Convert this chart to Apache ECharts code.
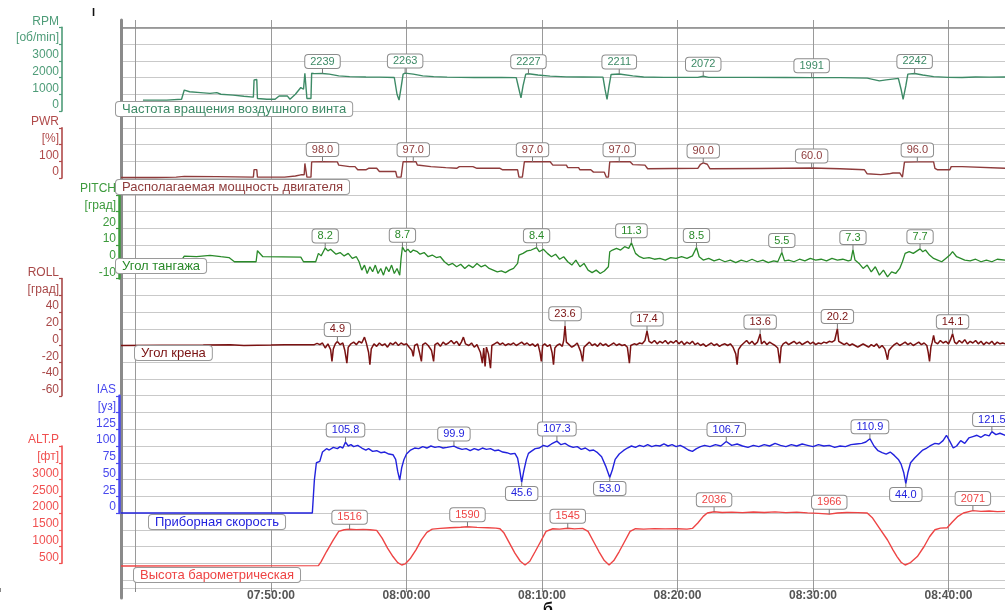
<!DOCTYPE html>
<html><head><meta charset="utf-8">
<script src="https://cdn.jsdelivr.net/npm/echarts/dist/echarts.min.js"></script>
<style>html,body{margin:0;padding:0;background:#fff}#c{width:1005px;height:610px}</style>
</head><body><div id="c"></div>
<script>
// ---------- DATA (time in minutes after 07:00:00, value) ----------
const rpm = [[40.55,650],[42.3,650],[42.4,700],[43.4,700],[43.6,1250],[44.0,1150],[44.8,1100],[45.5,1050],[46.0,1100],[46.3,1000],[47.2,950],[48.0,880],[48.7,830],[48.75,1850],[48.95,1880],[49.0,750],[49.7,700],[50.3,700],[50.6,900],[51.2,900],[51.4,700],[51.8,1000],[52.2,1400],[52.4,1300],[52.5,2250],[52.6,2250],[52.65,750],[52.95,750],[53.0,2250],[53.2,2230],[53.8,2239],[54.3,2200],[55.0,2100],[55.8,2050],[57.0,2030],[58.0,2020],[59.1,2000],[59.3,1000],[59.45,650],[59.6,1400],[59.75,2200],[59.9,2263],[60.5,2200],[61.2,2100],[62.0,2050],[63.0,2020],[65.0,2000],[67.0,2000],[68.1,1990],[68.3,1300],[68.45,780],[68.6,1500],[68.8,2200],[69.0,2227],[69.7,2150],[70.6,2080],[71.8,2040],[73.0,2030],[74.5,2020],[74.65,1300],[74.8,700],[74.95,1500],[75.1,2180],[75.7,2211],[76.7,2100],[77.5,2030],[79.0,2010],[81.5,2010],[81.9,2072],[82.3,2010],[85.0,2010],[88.0,2000],[89.9,1991],[92.0,1990],[94.0,1960],[94.9,1800],[95.4,1860],[96.3,1950],[96.5,1300],[96.65,700],[96.85,1500],[97.0,2200],[97.5,2242],[98.1,2150],[98.9,2050],[100.0,2010],[101.0,2000],[102.0,2030],[103.0,2020],[104.2,2030]];
const rpmNotes = [[53.8,2239],[59.9,2263],[69.0,2227],[75.7,2211],[81.9,2072],[89.9,1991],[97.5,2242]];

const pwr = [[38.93,3],[41.5,3],[43.0,5],[43.6,10],[46.0,8],[48.7,5],[48.75,50],[48.95,50],[49.0,5],[51.0,5],[51.8,12],[52.2,19],[52.45,19],[52.5,87],[52.6,87],[52.65,5],[52.95,5],[53.0,96],[53.8,98],[54.9,96],[55.0,77],[55.8,68],[56.2,68],[56.4,49],[57.0,49],[57.2,58],[57.8,58],[58.0,39],[59.2,39],[59.3,5],[59.6,5],[59.75,97],[60.7,97],[60.8,78],[61.8,68],[62.9,62],[63.7,58],[63.9,68],[64.9,68],[65.2,58],[66.9,58],[67.1,49],[68.2,49],[68.3,5],[68.55,5],[68.7,97],[70.6,97],[70.8,77],[71.8,77],[71.9,62],[72.7,62],[72.8,49],[73.6,49],[73.8,35],[74.6,35],[74.75,5],[74.9,5],[75.0,96],[75.6,97],[76.5,97],[76.7,80],[77.6,77],[77.8,55],[81.5,58],[81.7,82],[81.9,90],[82.2,82],[82.4,55],[86.0,57],[89.9,60],[92.0,55],[93.8,49],[94.0,25],[95.0,20],[95.6,25],[95.9,30],[96.4,30],[96.6,5],[96.75,95],[97.7,96],[98.9,96],[99.0,58],[99.2,49],[100.1,49],[100.2,68],[101.0,68],[101.1,58],[104.2,58]];
const pwrNotes = [[53.8,98],[60.5,97],[69.3,97],[75.7,97],[81.9,90],[89.9,60],[97.7,96]];

const pitch = [[38.93,1],[43.4,1],[43.6,3.4],[44.5,3],[45.5,3.8],[46.3,3],[46.9,2.5],[47.3,0],[48.9,0],[49.0,6.6],[49.4,3],[52.2,2.8],[52.4,0],[53.3,0],[53.5,5],[53.7,3.5],[54.0,8.2],[54.2,6.5],[54.4,7.5],[54.6,6],[54.8,4.5],[55.1,5.5],[55.4,3.5],[55.7,5],[56.0,2],[56.3,3],[56.5,0],[56.7,-5],[56.9,-2],[57.1,-7],[57.3,-3],[57.5,-6],[57.7,-2],[57.9,-7],[58.1,-4],[58.3,-8],[58.5,-3],[58.7,-6],[58.9,-2],[59.1,-7],[59.3,-4],[59.5,-8],[59.6,2],[59.7,8.7],[59.9,6],[60.1,7.5],[60.3,5.5],[60.5,7],[60.8,6],[61.0,4.5],[61.3,5.5],[61.6,3],[61.9,4],[62.2,2.5],[62.5,3],[62.8,0],[63.1,-2],[63.4,-1],[63.7,-3],[64.0,-1.5],[64.3,-4],[64.6,-2],[64.9,-3.5],[65.2,-1],[65.5,-3],[65.8,-2],[66.1,-4],[66.4,-5],[66.7,-6],[67.0,-5.5],[67.3,-6.5],[67.6,-5],[67.9,-4],[68.2,-1],[68.3,4],[68.6,5],[68.9,6.5],[69.2,7],[69.6,8.4],[69.8,6],[70.1,7.5],[70.4,5],[70.7,3],[71.0,4.5],[71.3,1.5],[71.6,3],[71.9,0],[72.2,-2],[72.5,1],[72.8,-3],[73.1,-1],[73.4,-5],[73.7,-6.5],[74.0,-5],[74.3,-7],[74.6,-5.5],[74.9,-3],[75.0,6],[75.2,7],[75.5,8],[75.8,7],[76.1,9],[76.4,8],[76.6,11.3],[76.9,5],[77.2,3],[77.5,2],[77.9,2.5],[78.3,1.5],[78.7,2],[79.1,1],[79.5,2.5],[79.9,2],[80.3,3],[80.7,2],[81.1,3.5],[81.4,8.5],[81.6,3],[81.9,1],[82.3,2],[82.7,0.5],[83.1,1.5],[83.5,0],[83.9,1],[84.3,-0.5],[84.7,1],[85.1,0],[85.5,1.5],[85.9,0],[86.3,1],[86.7,-0.5],[87.1,0.5],[87.4,0],[87.7,5.5],[87.9,0.5],[88.2,1],[88.6,0],[89.0,1.5],[89.4,0.5],[89.8,2],[90.2,1],[90.6,1.5],[91.0,0.5],[91.4,2],[91.8,1],[92.2,1.5],[92.6,0.5],[92.8,1],[92.95,7.3],[93.1,1],[93.4,-1],[93.7,-4],[94.0,-2],[94.3,-6],[94.6,-3],[94.9,-8],[95.2,-5],[95.5,-9],[95.8,-6],[96.1,-7],[96.4,-4],[96.6,0],[96.8,5],[97.1,6],[97.4,5],[97.9,7.7],[98.1,6],[98.3,7],[98.6,4],[98.9,2],[99.2,1],[99.5,0],[99.8,2],[100.1,4],[100.3,6],[100.6,3],[100.9,2],[101.2,1],[101.6,0.5],[102.0,1.5],[102.4,0],[102.8,1],[103.2,0],[103.6,1.5],[104.2,1]];
const pitchNotes = [[54.0,8.2],[59.7,8.7],[69.6,8.4],[76.6,11.3],[81.4,8.5],[87.7,5.5],[92.95,7.3],[97.9,7.7]];

const roll = [[38.93,0],[45,0.5],[47,1],[48,0],[50,0.5],[51,1],[53.2,1],[53.4,2.5],[53.6,1],[53.8,3],[54.0,-3],[54.2,2],[54.4,-5],[54.5,-19],[54.6,-4],[54.75,2],[54.9,4.9],[55.1,1],[55.3,3],[55.45,-6],[55.6,-21],[55.7,-2],[55.9,2],[56.1,4],[56.3,1],[56.5,5],[56.7,3],[56.9,10],[57.05,2],[57.2,-8],[57.3,-23],[57.4,-4],[57.6,2],[57.8,-1],[58.0,3],[58.2,0],[58.4,2],[58.6,-2],[58.8,3],[59.0,1],[59.2,4],[59.4,0],[59.6,3],[59.8,1],[60.0,2],[60.2,-2],[60.4,-6],[60.5,-13],[60.6,0],[60.8,2],[60.95,-8],[61.1,-19],[61.2,1],[61.4,3],[61.6,0],[61.85,-6],[62.0,-19],[62.1,1],[62.3,3],[62.5,-1],[62.7,4],[62.9,1],[63.1,3],[63.3,6],[63.5,2],[63.7,5],[63.9,0],[64.05,4],[64.2,10],[64.35,2],[64.6,0],[64.8,3],[65.0,-2],[65.2,1],[65.45,-8],[65.6,-21],[65.7,-3],[65.8,-25],[65.9,-2],[66.05,-10],[66.2,-27],[66.3,0],[66.5,2],[66.7,4],[66.9,1],[67.1,3],[67.3,0],[67.5,2],[67.7,1],[67.9,3],[68.1,0],[68.3,2],[68.5,4],[68.7,1],[68.9,3],[69.1,0],[69.3,2],[69.5,-1],[69.7,2],[69.85,-8],[69.95,-19],[70.05,0],[70.2,2],[70.4,-1],[70.6,1],[70.75,-9],[70.85,-23],[70.95,-3],[71.1,0],[71.3,2],[71.5,-1],[71.6,6],[71.7,23.6],[71.8,4],[72.0,1],[72.2,-2],[72.4,0],[72.6,3],[72.85,-7],[73.0,-19],[73.1,-2],[73.3,1],[73.5,4],[73.7,0],[73.9,2],[74.1,-1],[74.3,3],[74.5,0],[74.7,2],[74.9,-1],[75.1,1],[75.3,3],[75.5,0],[75.7,2],[75.9,0],[76.1,1],[76.3,-2],[76.45,-21],[76.55,0],[76.8,2],[77.0,1],[77.2,3],[77.4,2],[77.6,6],[77.75,17.4],[77.9,5],[78.1,3],[78.3,6],[78.5,2],[78.7,5],[78.9,3],[79.1,6],[79.3,2],[79.5,5],[79.7,3],[79.9,6],[80.1,2],[80.3,5],[80.5,1],[80.7,4],[80.9,2],[81.1,5],[81.3,1],[81.5,3],[81.7,0],[81.9,2],[82.1,-1],[82.3,1],[82.5,3],[82.7,0],[82.9,2],[83.1,-1],[83.3,1],[83.5,2],[83.7,0],[83.9,2],[84.1,-2],[84.3,-10],[84.4,-23],[84.5,-5],[84.7,0],[84.9,3],[85.1,6],[85.3,2],[85.5,5],[85.7,1],[85.9,4],[86.1,13.6],[86.2,2],[86.4,5],[86.6,1],[86.8,4],[87.0,2],[87.2,0],[87.4,-3],[87.55,-21],[87.65,-2],[87.8,2],[88.0,4],[88.2,1],[88.4,3],[88.6,5],[88.8,2],[89.0,4],[89.2,1],[89.4,3],[89.6,5],[89.8,2],[90.0,4],[90.2,1],[90.4,3],[90.6,2],[90.8,4],[91.0,3],[91.2,5],[91.4,4],[91.6,6],[91.8,20.2],[91.9,5],[92.1,3],[92.3,1],[92.5,3],[92.7,0],[92.9,2],[93.1,0],[93.3,-2],[93.5,0],[93.7,2],[93.9,0],[94.1,-2],[94.3,1],[94.5,-1],[94.7,2],[94.9,-3],[95.1,0],[95.3,-4],[95.4,-10],[95.5,-17],[95.6,-6],[95.8,-2],[96.0,1],[96.2,3],[96.4,0],[96.6,2],[96.8,4],[97.0,1],[97.2,3],[97.4,0],[97.6,2],[97.8,4],[98.0,1],[98.2,3],[98.4,0],[98.5,-8],[98.6,-19],[98.7,-2],[98.8,4],[98.9,12],[99.0,4],[99.2,2],[99.4,6],[99.6,3],[99.8,5],[100.0,2],[100.15,7],[100.3,14.1],[100.45,4],[100.6,2],[100.8,6],[101.0,3],[101.2,7],[101.4,2],[101.6,5],[101.8,3],[102.0,6],[102.2,2],[102.4,5],[102.6,1],[102.8,4],[103.0,2],[103.2,5],[103.4,1],[103.6,4],[103.8,2],[104.0,3],[104.2,2]];
const rollNotes = [[54.9,4.9],[71.7,23.6],[77.75,17.4],[86.1,13.6],[91.8,20.2],[100.3,14.1]];

const ias = [[38.93,0],[53.05,0],[53.2,49],[53.35,75],[53.6,77],[53.8,91],[54.1,96],[54.3,94],[54.6,98],[54.9,96],[55.1,99],[55.3,97],[55.5,105.8],[55.7,100],[55.9,102],[56.1,99],[56.4,101],[56.7,97],[57.0,94],[57.2,96],[57.5,92],[57.8,93],[58.1,90],[58.4,91],[58.7,88],[59.0,87],[59.2,80],[59.35,62],[59.5,49],[59.65,68],[59.8,79],[60.0,88],[60.3,94],[60.6,97],[60.9,96],[61.2,99],[61.5,97],[61.8,100],[62.1,98],[62.4,99],[62.7,97],[63.0,98],[63.5,99.9],[63.8,97],[64.1,95],[64.4,96],[64.7,93],[65.0,96],[65.3,94],[65.6,97],[65.9,95],[66.2,96],[66.5,93],[66.8,94],[67.1,91],[67.4,90],[67.7,88],[68.0,89],[68.2,82],[68.35,65],[68.5,45.6],[68.65,62],[68.85,80],[69.0,89],[69.2,92],[69.5,96],[69.8,97],[70.1,101],[70.4,99],[70.7,103],[71.1,107.3],[71.4,102],[71.7,104],[72.0,100],[72.3,98],[72.6,99],[72.9,95],[73.2,97],[73.5,93],[73.8,94],[74.1,90],[74.4,84],[74.7,70],[75.0,53.0],[75.2,65],[75.4,80],[75.7,88],[76.0,93],[76.3,97],[76.6,100],[76.9,98],[77.2,101],[77.5,99],[77.8,102],[78.1,99],[78.4,101],[78.7,100],[79.0,103],[79.3,100],[79.6,102],[79.9,99],[80.2,101],[80.5,98],[80.8,94],[81.1,92],[81.4,96],[81.7,99],[82.0,101],[82.4,99],[82.8,102],[83.2,100],[83.6,106.7],[84.0,101],[84.4,103],[84.8,100],[85.2,98],[85.6,101],[86.0,99],[86.4,102],[86.8,100],[87.2,104],[87.6,101],[88.0,99],[88.4,102],[88.8,100],[89.2,103],[89.6,101],[90.0,99],[90.4,102],[90.8,100],[91.2,101],[91.6,98],[92.0,100],[92.4,99],[92.8,102],[93.2,103],[93.6,104],[93.9,106],[94.2,110.9],[94.5,100],[94.8,93],[95.1,90],[95.4,88],[95.7,91],[96.0,86],[96.3,80],[96.5,73],[96.7,60],[96.85,44.0],[97.0,60],[97.2,75],[97.5,82],[97.8,88],[98.1,94],[98.4,97],[98.7,101],[99.0,104],[99.3,103],[99.6,108],[99.85,116],[100.1,107],[100.35,97],[100.6,100],[100.9,108],[101.2,104],[101.5,112],[101.8,114],[102.1,116],[102.4,113],[102.7,117],[103.0,115],[103.2,121.5],[103.5,117],[103.8,119],[104.2,116]];
const iasNotes = [[55.5,105.8],[63.5,99.9],[71.1,107.3],[83.6,106.7],[94.2,110.9],[103.2,121.5]];
const iasLowNotes = [[68.5,45.6],[75.0,53.0],[96.85,44.0]];

const alt = [[38.93,420],[53.5,430],[53.7,550],[54.1,850],[54.6,1200],[55.0,1450],[55.4,1500],[55.8,1516],[56.3,1505],[56.8,1512],[57.3,1500],[57.8,1480],[58.2,1250],[58.6,950],[59.0,700],[59.35,520],[59.65,448],[59.9,480],[60.3,650],[60.7,900],[61.1,1200],[61.5,1420],[61.9,1520],[62.5,1540],[63.2,1560],[64.0,1575],[64.5,1590],[65.2,1570],[66.0,1560],[66.6,1550],[66.9,1530],[67.2,1400],[67.6,1100],[68.0,800],[68.4,560],[68.75,448],[69.1,560],[69.5,850],[69.9,1150],[70.3,1450],[70.8,1530],[71.3,1520],[71.9,1545],[72.4,1525],[73.0,1540],[73.4,1450],[73.8,1150],[74.2,850],[74.6,580],[74.95,448],[75.3,580],[75.7,850],[76.1,1150],[76.5,1450],[76.9,1530],[77.5,1520],[78.3,1535],[79.1,1525],[80.0,1530],[80.7,1520],[81.1,1540],[81.5,1700],[81.9,1900],[82.2,2000],[82.7,2036],[83.3,2015],[84.0,2025],[84.8,2010],[85.6,2030],[86.4,2015],[87.2,2035],[88.0,2010],[88.8,2025],[89.6,2005],[90.4,1990],[91.2,1966],[91.8,2000],[92.5,2015],[93.3,2010],[94.0,2000],[94.4,1850],[94.9,1550],[95.5,1194],[95.9,900],[96.2,700],[96.5,530],[96.8,448],[97.2,520],[97.7,700],[98.2,1000],[98.6,1292],[99.0,1500],[99.4,1550],[99.9,1560],[100.3,1740],[100.7,1900],[101.1,2000],[101.8,2071],[102.4,2050],[103.0,2060],[103.6,2040],[104.2,2050]];
const altNotes = [[55.8,1516],[64.5,1590],[71.9,1545],[82.7,2036],[91.2,1966],[101.8,2071]];

const seriesNames = ['Частота вращения воздушного винта','Располагаемая мощность двигателя','Угол тангажа','Угол крена','Приборная скорость','Высота барометрическая'];
const axisNames = ['RPM','PWR','PITCH','ROLL','IAS','ALT.P'];
const axisUnits = ['[об/min]','[%]','[град]','[град]','[уз]','[фт]'];
const timeRange = [38.93, 104.17];   // minutes after 07:00
const timeTickStart = 30;            // 07:30:00, ticks every 10 min
const timeTickStep = 10;

// ---------- LAYOUT ----------
const W = 1005, GL = 121, STEP = 16.75, TOPLINE = 27.25, BOTTOM = 588;
const gy = j => 10.5 + j*STEP;
const FONT = 'Liberation Sans';
const pxPerMin = (W - GL) / (timeRange[1] - timeRange[0]);
const tickGridLeft = GL - (timeRange[0] - timeTickStart) * pxPerMin;

const panels = [
  {data: rpm,   notes: rpmNotes,   jt:1,  jb:6,  min:0,   max:5000, step:1000, line:'#3d8a66', txt:'#4e9c78', off:59, aw:1.6, lw:1.4, dec:0, box:[115,101]},
  {data: pwr,   notes: pwrNotes,   jt:7,  jb:10, min:0,   max:300,  step:100,  line:'#8e3b3b', txt:'#b04a4a', off:59, aw:1.6, lw:1.4, dec:1, box:[115,179]},
  {data: pitch, notes: pitchNotes, jt:11, jb:16, min:-10, max:40,   step:10,   line:'#2a8a2a', txt:'#3c9a3c', off:2,  aw:2.5, lw:1.3, dec:1, box:[115,258]},
  {data: roll,  notes: rollNotes,  jt:16, jb:23, min:-60, max:80,   step:20,   line:'#7a1212', txt:'#a84848', off:59, aw:1.6, lw:1.5, dec:1, box:[134,345]},
  {data: ias,   notes: iasNotes,   jt:23, jb:30, min:0,   max:175,  step:25,   line:'#2222dd', txt:'#4848ee', off:2,  aw:2.5, lw:1.4, dec:1, box:[148,514], low: iasLowNotes},
  {data: alt,   notes: altNotes,   jt:26, jb:33, min:500, max:4000, step:500,  line:'#ee4444', txt:'#f05050', off:59, aw:1.6, lw:1.4, dec:0, box:[133,567]}
];

function hms(m){const h=7+Math.floor(m/60), mm=Math.round(m%60);const p=n=>String(n).padStart(2,'0');return p(h)+':'+p(mm)+':00';}

const G = o => Object.assign({right:0, show:false, containLabel:false, outerBoundsMode:'none'}, o);
const grids = [
  G({left:GL, top:TOPLINE, height:BOTTOM-TOPLINE}),
  G({left:tickGridLeft, top:20, height:BOTTOM-20}),
  G({left:GL, top:20, height:598-20})
];
const xAxes = [
  {type:'value', gridIndex:0, min:timeRange[0], max:timeRange[1],
   axisLine:{show:true, lineStyle:{color:'#888', width:1.5}}, axisTick:{show:false}, axisLabel:{show:false}, splitLine:{show:false}},
  {type:'value', gridIndex:1, min:timeTickStart, max:timeRange[1], interval:timeTickStep,
   axisLine:{show:false}, axisTick:{show:true, length:4, lineStyle:{color:'#888'}},
   splitLine:{show:true, showMinLine:false, showMaxLine:false, lineStyle:{color:'#9a9a9a', width:1}},
   axisLabel:{color:'#555', fontSize:12, fontWeight:'bold', fontFamily:FONT, margin:2, showMaxLabel:false,
     formatter: v => ((v <= 40 || v % 10 !== 0) ? '' : hms(v))}},
  {type:'value', gridIndex:2, min:timeRange[0], max:timeRange[1], show:false}
];
const yAxes = [
  {type:'value', gridIndex:0, inverse:true, min:0, max:(BOTTOM-TOPLINE)/STEP, interval:1,
   axisLine:{show:false}, axisTick:{show:false}, axisLabel:{show:false},
   splitLine:{show:true, lineStyle:{color:'#c9c9c9', width:1}}},
  {type:'value', gridIndex:1, min:0, max:1, show:false},
  {type:'value', gridIndex:2, min:0, max:1, axisLine:{show:true, lineStyle:{color:'#8a8a8a', width:3}},
   axisTick:{show:false}, axisLabel:{show:false}, splitLine:{show:false}}
];
const series = [];
const graphics = [];

const noteLabel = (p, dy) => ({
  show:true, position:'inside', offset:[0,dy], color:p.line, fontSize:11, fontFamily:FONT,
  backgroundColor:'#fff', borderColor:'#8c8c8c', borderWidth:1, borderRadius:3,
  padding:[1,5,0,5], lineHeight:12,
  formatter: q => Number(q.value).toFixed(p.dec)
});

panels.forEach((p, i) => {
  const g = grids.length;
  const top = gy(p.jt), bot = gy(p.jb);
  grids.push(G({left:GL, top:top, height:bot-top}));
  xAxes.push({type:'value', gridIndex:g, min:timeRange[0], max:timeRange[1], show:false});
  yAxes.push({
    type:'value', gridIndex:g, min:p.min, max:p.max, interval:p.step, position:'left', offset:p.off,
    axisLine:{show:true, lineStyle:{color:p.txt, width:p.aw}},
    axisTick:{show:true, length:3, lineStyle:{color:p.txt, width:1.2}},
    splitLine:{show:false},
    axisLabel:{color:p.txt, fontSize:12, fontFamily:FONT, margin:3, verticalAlign:'bottom', lineHeight:12,
      formatter: v => v === p.max ? axisNames[i] : (v === p.max - p.step ? axisUnits[i] : String(v))}
  });
  const mp = p.notes.map(([m,v]) => ({coord:[m, v], value:v, symbol:'rect', symbolSize:[1,6], symbolOffset:[0,-3],
    itemStyle:{color:'#777'}, label: noteLabel(p, -9)}));
  (p.low || []).forEach(([m,v]) => mp.push({coord:[m, v], value:v, symbol:'rect', symbolSize:[1,6], symbolOffset:[0,3],
    itemStyle:{color:'#777'}, label: noteLabel(p, 8)}));
  series.push({
    type:'line', xAxisIndex:g, yAxisIndex:g, name:seriesNames[i],
    data: p.data,
    showSymbol:false, clip:false, z:5,
    lineStyle:{color:p.line, width:p.lw}, itemStyle:{color:p.line},
    markPoint:{data:mp, animation:false, z:8}
  });
  graphics.push({type:'text', left:p.box[0], top:p.box[1], z:50,
    style:{text:seriesNames[i], fill:p.line, font:'13px "'+FONT+'"', backgroundColor:'#fff',
      borderColor:'#9a9a9a', borderWidth:1, borderRadius:3, padding:[1,6,0,6]}});
});

graphics.push({type:'text', left:92, top:7, style:{text:'I', fill:'#111', font:'bold 11px "'+FONT+'"'}});
graphics.push({type:'text', left:543, top:602, style:{text:'б', fill:'#111', font:'bold 16px "'+FONT+'"'}});

const chart = echarts.init(document.getElementById('c'), null, {renderer:'canvas'});
chart.setOption({
  animation:false,
  backgroundColor:'#fff',
  textStyle:{fontFamily:FONT},
  grid:grids, xAxis:xAxes, yAxis:yAxes, series:series, graphic:graphics
});
</script></body></html>
